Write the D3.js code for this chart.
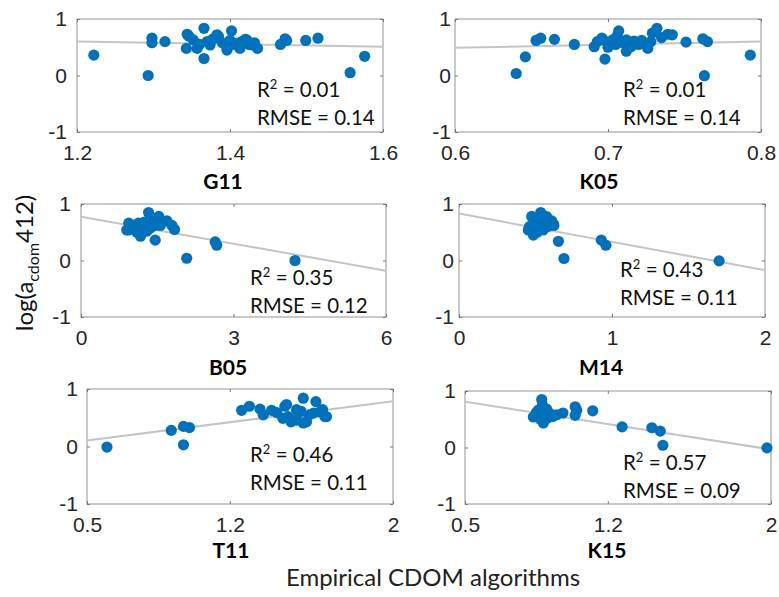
<!DOCTYPE html>
<html>
<head>
<meta charset="utf-8">
<script src="https://cdn.jsdelivr.net/npm/d3@7"></script>
<style>
  body { margin: 0; background: #fff; }
  svg { display: block; }
</style>
</head>
<body>
<svg id="svgChart" width="779" height="597"></svg>
<script>
// Panel names and axis ranges
var names = ["G11", "K05", "B05", "M14", "T11", "K15"];
var xDomains = [[1.2, 1.6], [0.6, 0.8], [0, 6], [0, 2], [0.5, 2], [0.5, 2]];
var xTicks = [[1.2, 1.4, 1.6], [0.6, 0.7, 0.8], [0, 3, 6], [0, 1, 2], [0.5, 1.2, 2], [0.5, 1.2, 2]];
var yTicks = [-1, 0, 1];

// Scatter points [x, log(acdom412)]
var g11Pts = [[1.222,0.36],[1.293,0.00],[1.298,0.66],[1.298,0.58],[1.315,0.60],
	[1.344,0.73],[1.346,0.70],[1.352,0.63],[1.357,0.48],[1.343,0.48],[1.366,0.835],[1.366,0.30],
	[1.360,0.55],[1.370,0.60],[1.374,0.54],[1.378,0.65],[1.385,0.69],[1.383,0.72],[1.390,0.58],
	[1.396,0.45],[1.396,0.50],[1.402,0.79],[1.400,0.62],[1.405,0.55],[1.409,0.57],[1.413,0.48],
	[1.415,0.60],[1.420,0.64],[1.422,0.63],[1.425,0.55],[1.429,0.54],[1.436,0.48],[1.432,0.58],
	[1.466,0.55],[1.472,0.65],[1.474,0.62],[1.499,0.62],[1.515,0.66],[1.557,0.05],[1.576,0.34]];
var k05Pts = [[0.640,0.035],[0.646,0.33],[0.653,0.62],[0.656,0.66],[0.665,0.64],[0.678,0.55],
	[0.691,0.51],[0.693,0.60],[0.697,0.63],[0.696,0.66],[0.698,0.29],[0.700,0.50],[0.703,0.63],
	[0.705,0.55],[0.707,0.79],[0.706,0.70],[0.710,0.58],[0.712,0.63],[0.712,0.43],[0.715,0.51],
	[0.717,0.61],[0.720,0.55],[0.722,0.62],[0.726,0.48],[0.729,0.75],[0.728,0.60],[0.732,0.835],
	[0.735,0.67],[0.739,0.73],[0.742,0.72],[0.751,0.59],[0.762,0.65],[0.765,0.60],[0.763,-0.003],
	[0.793,0.36]];
var b05Pts = [[0.94,0.66],[0.90,0.54],[0.94,0.54],[1.05,0.60],[1.13,0.66],[1.17,0.43],[1.10,0.50],
	[1.23,0.60],[1.25,0.68],[1.33,0.85],[1.30,0.52],[1.37,0.58],[1.40,0.70],[1.45,0.62],[1.53,0.78],
	[1.46,0.36],[1.56,0.62],[1.60,0.68],[1.69,0.70],[1.79,0.62],[1.84,0.55],[2.08,0.04],[2.64,0.33],
	[2.67,0.27],[4.21,0.0]];
var m14Pts = [[0.453,0.54],[0.460,0.60],[0.475,0.78],[0.486,0.45],[0.49,0.65],[0.51,0.60],[0.51,0.50],
	[0.53,0.66],[0.534,0.85],[0.54,0.72],[0.55,0.54],[0.56,0.62],[0.573,0.775],[0.58,0.60],[0.59,0.68],
	[0.606,0.70],[0.617,0.645],[0.62,0.62],[0.65,0.34],[0.686,0.035],[0.93,0.36],[0.96,0.27],[1.70,-0.006]];
var t11Pts = [[0.598,-0.01],[0.913,0.28],[0.973,0.35],[1.002,0.33],[0.973,0.03],[1.258,0.63],[1.296,0.70],
	[1.348,0.65],[1.364,0.55],[1.405,0.63],[1.43,0.59],[1.46,0.49],[1.47,0.70],[1.478,0.73],[1.486,0.52],
	[1.495,0.48],[1.50,0.43],[1.527,0.64],[1.527,0.46],[1.55,0.61],[1.56,0.84],[1.56,0.41],[1.576,0.43],
	[1.59,0.55],[1.61,0.58],[1.622,0.78],[1.64,0.60],[1.655,0.64],[1.666,0.52],[1.674,0.52]];
var k15Pts = [[0.835,0.54],[0.85,0.62],[0.86,0.66],[0.87,0.50],[0.876,0.85],[0.88,0.75],[0.884,0.435],
	[0.89,0.58],[0.90,0.68],[0.905,0.52],[0.917,0.60],[0.93,0.55],[0.95,0.58],[0.98,0.61],[1.04,0.72],
	[1.048,0.66],[1.04,0.57],[1.126,0.65],[1.27,0.365],[1.416,0.35],[1.457,0.29],[1.47,0.04],[1.98,-0.006]];
var allPts = [g11Pts, k05Pts, b05Pts, m14Pts, t11Pts, k15Pts];

// Fitted line: y at left and right end of the x range
var fitEnds = [[0.60, 0.51], [0.49, 0.60], [0.775, -0.18], [0.83, -0.17], [0.105, 0.785], [0.81, -0.035]];
var r2Labels = ["0.01", "0.01", "0.35", "0.43", "0.46", "0.57"];
var rmseLabels = ["0.14", "0.14", "0.12", "0.11", "0.11", "0.09"];

// Panel boxes (pixels) and label placement
var layout = [
	{l: 77,  r: 383, t: 19,  b: 132, tx: 223, ty: 57, gap: 10, sx: 180, sy: 78},
	{l: 455, r: 761, t: 19,  b: 132, tx: 599, ty: 57, gap: 4,  sx: 168, sy: 78},
	{l: 81,  r: 386, t: 204, b: 317, tx: 228, ty: 58, gap: 10, sx: 169, sy: 81},
	{l: 459, r: 765, t: 204, b: 317, tx: 601, ty: 58, gap: 5,  sx: 161, sy: 73},
	{l: 87,  r: 393, t: 389, b: 504, tx: 231, ty: 54, gap: 9,  sx: 163, sy: 73},
	{l: 465, r: 771, t: 391, b: 504, tx: 607, ty: 54, gap: 9,  sx: 158, sy: 79}
];

var tickFont = "'Liberation Sans', Arial, sans-serif";
var textFont = "Lato, 'Open Sans', sans-serif";
var svg = d3.select("#svgChart");

names.forEach((name, i) => {
	let p = layout[i];
	let x = d3.scaleLinear().domain(xDomains[i]).range([p.l, p.r]);
	let y = d3.scaleLinear().domain([-1, 1]).range([p.b, p.t]);
	let g = svg.append("g").attr("class", "panel");
	let fmt = (d) => String(d);

	// Frame
	g.append("rect")
		.attr("x", p.l).attr("y", p.t)
		.attr("width", p.r - p.l).attr("height", p.b - p.t)
		.attr("fill", "none").attr("stroke", "#a6a6a6").attr("stroke-width", 1.2);

	// Axes with inward ticks
	let axes = [
		[d3.axisBottom(x).tickValues(xTicks[i]), p.b, 0, true, 13],
		[d3.axisTop(x).tickValues(xTicks[i]), p.t, 0, false, 10],
		[d3.axisLeft(y).tickValues(yTicks), 0, p.l, true, p.gap],
		[d3.axisRight(y).tickValues(yTicks), 0, p.r, false, 10]
	];
	axes.forEach((a) => {
		let ax = a[0].tickFormat(fmt).tickSize(-3).tickSizeOuter(0).tickPadding(a[4]);
		let sel = g.append("g")
			.attr("transform", "translate(" + a[2] + "," + a[1] + ")")
			.call(ax);
		sel.select(".domain").remove();
		sel.selectAll("line").attr("stroke", "#777");
		sel.selectAll("text")
			.style("font-family", tickFont)
			.style("font-size", "21px")
			.attr("fill", "#262626")
			.style("display", a[3] ? null : "none");
	});

	// Fit line
	g.append("line")
		.attr("x1", x(xDomains[i][0])).attr("y1", y(fitEnds[i][0]))
		.attr("x2", x(xDomains[i][1])).attr("y2", y(fitEnds[i][1]))
		.attr("stroke", "#c4c4c4").attr("stroke-width", 2);

	// Points
	g.selectAll(".dot")
		.data(allPts[i])
		.enter()
		.append("circle")
		.attr("class", "dot")
		.attr("cx", (d) => x(d[0]))
		.attr("cy", (d) => y(d[1]))
		.attr("r", 5.6)
		.attr("fill", "#0072bd");

	// Stats text
	let t1 = g.append("text")
		.attr("x", p.l + p.sx).attr("y", p.t + p.sy)
		.style("font-family", textFont).style("font-size", "20.5px").attr("fill", "#111");
	t1.append("tspan").text("R");
	t1.append("tspan").attr("dy", -8).style("font-size", "13px").text("2");
	t1.append("tspan").attr("dy", 8).text(" = " + r2Labels[i]);
	g.append("text")
		.attr("x", p.l + p.sx).attr("y", p.t + p.sy + 28)
		.style("font-family", textFont).style("font-size", "20.5px").attr("fill", "#111")
		.text("RMSE = " + rmseLabels[i]);

	// Panel title
	g.append("text")
		.attr("x", p.tx).attr("y", p.b + p.ty)
		.attr("text-anchor", "middle")
		.style("font-family", textFont).style("font-size", "21px").style("font-weight", "bold")
		.attr("fill", "#000")
		.text(name);
});

// Shared axis labels
let yl = svg.append("text")
	.attr("transform", "translate(33,263) rotate(-90)")
	.attr("text-anchor", "middle")
	.style("font-family", textFont).style("font-size", "24px").attr("fill", "#111");
yl.append("tspan").text("log(a");
yl.append("tspan").attr("dy", 6).style("font-size", "16px").text("cdom");
yl.append("tspan").attr("dy", -6).text("412)");

svg.append("text")
	.attr("x", 433).attr("y", 586)
	.attr("text-anchor", "middle")
	.style("font-family", textFont).style("font-size", "24px").attr("fill", "#222")
	.text("Empirical CDOM algorithms");
</script>
</body>
</html>
